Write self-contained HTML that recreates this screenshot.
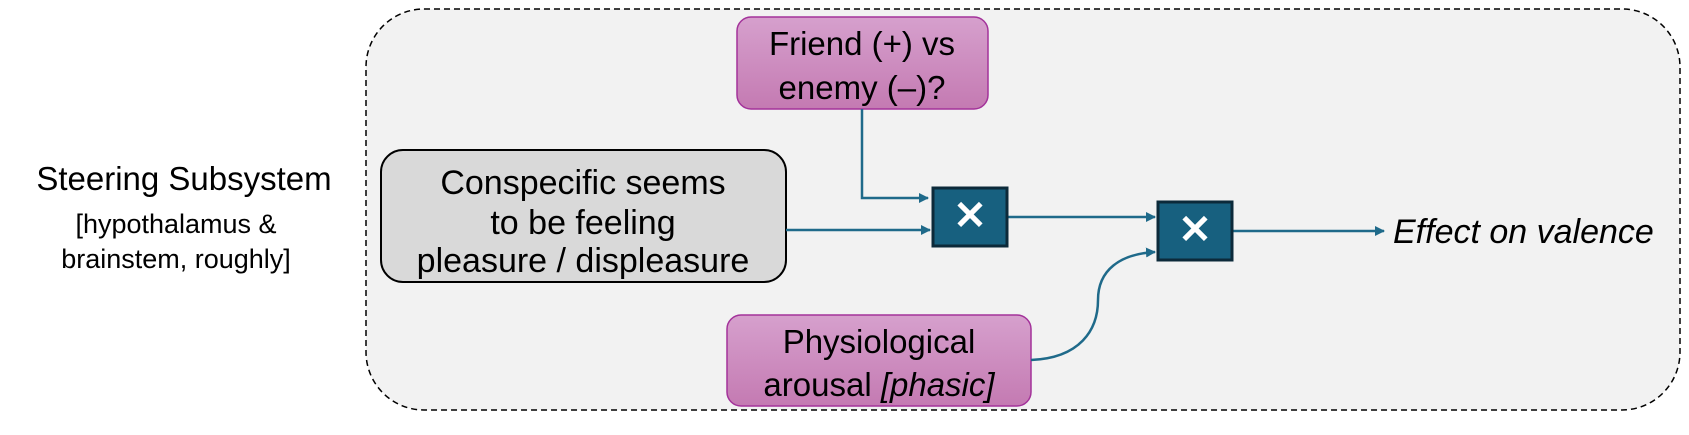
<!DOCTYPE html>
<html><head><meta charset="utf-8"><style>
body{margin:0;background:#fff;}
svg text{font-family:"Liberation Sans",sans-serif;fill:#000;}
</style></head><body>
<svg width="1689" height="430" viewBox="0 0 1689 430" xmlns="http://www.w3.org/2000/svg">
<defs>
<linearGradient id="pk" x1="0" y1="0" x2="0" y2="1"><stop offset="0" stop-color="#d6a0cd"/><stop offset="1" stop-color="#c47ab2"/></linearGradient>
<marker id="ar" markerWidth="10" markerHeight="10" refX="9" refY="5" orient="auto" markerUnits="userSpaceOnUse"><path d="M0,0 L10,5 L0,10 z" fill="#1f6a8a"/></marker>
</defs>
<rect x="366" y="9" width="1314" height="401" rx="58" fill="#f2f2f2" stroke="#000" stroke-width="1.5" stroke-dasharray="6,4"/>
<text x="184" y="190" font-size="33" text-anchor="middle">Steering Subsystem</text>
<text x="176" y="233" font-size="27" text-anchor="middle">[hypothalamus &amp;</text>
<text x="176" y="268" font-size="27" text-anchor="middle">brainstem, roughly]</text>

<rect x="737" y="17" width="251" height="92" rx="14" fill="url(#pk)" stroke="#a3329a" stroke-width="1.5"/>
<text x="862" y="55" font-size="33" text-anchor="middle">Friend (+) vs</text>
<text x="862" y="99" font-size="33" text-anchor="middle">enemy (–)?</text>

<rect x="381" y="150" width="405" height="132" rx="22" fill="#d9d9d9" stroke="#000" stroke-width="2"/>
<text x="583" y="194" font-size="34" text-anchor="middle">Conspecific seems</text>
<text x="583" y="234" font-size="34" text-anchor="middle">to be feeling</text>
<text x="583" y="272" font-size="34" text-anchor="middle">pleasure / displeasure</text>

<rect x="727" y="315" width="304" height="91" rx="14" fill="url(#pk)" stroke="#a3329a" stroke-width="1.5"/>
<text x="879" y="353" font-size="33" text-anchor="middle">Physiological</text>
<text x="879" y="396" font-size="33" text-anchor="middle">arousal <tspan font-style="italic">[phasic]</tspan></text>

<g stroke="#1f6a8a" stroke-width="2.5" fill="none">
<path d="M862,109 V198 H928" marker-end="url(#ar)"/>
<path d="M786,230 H930" marker-end="url(#ar)"/>
<path d="M1008,217 H1155" marker-end="url(#ar)"/>
<path d="M1031,360 C1080,358 1098,330 1098,300 C1098,270 1120,254 1155,252" marker-end="url(#ar)"/>
<path d="M1233,231 H1384" marker-end="url(#ar)"/>
</g>

<rect x="933" y="188" width="74" height="58" fill="#17607f" stroke="#0c2a3a" stroke-width="3"/>
<text x="970" y="229" font-size="40" font-weight="bold" text-anchor="middle" style="fill:#fff">✕</text>
<rect x="1158" y="202" width="74" height="58" fill="#17607f" stroke="#0c2a3a" stroke-width="3"/>
<text x="1195" y="243" font-size="40" font-weight="bold" text-anchor="middle" style="fill:#fff">✕</text>

<text x="1393" y="243" font-size="34" font-style="italic">Effect on valence</text>
</svg>
</body></html>
